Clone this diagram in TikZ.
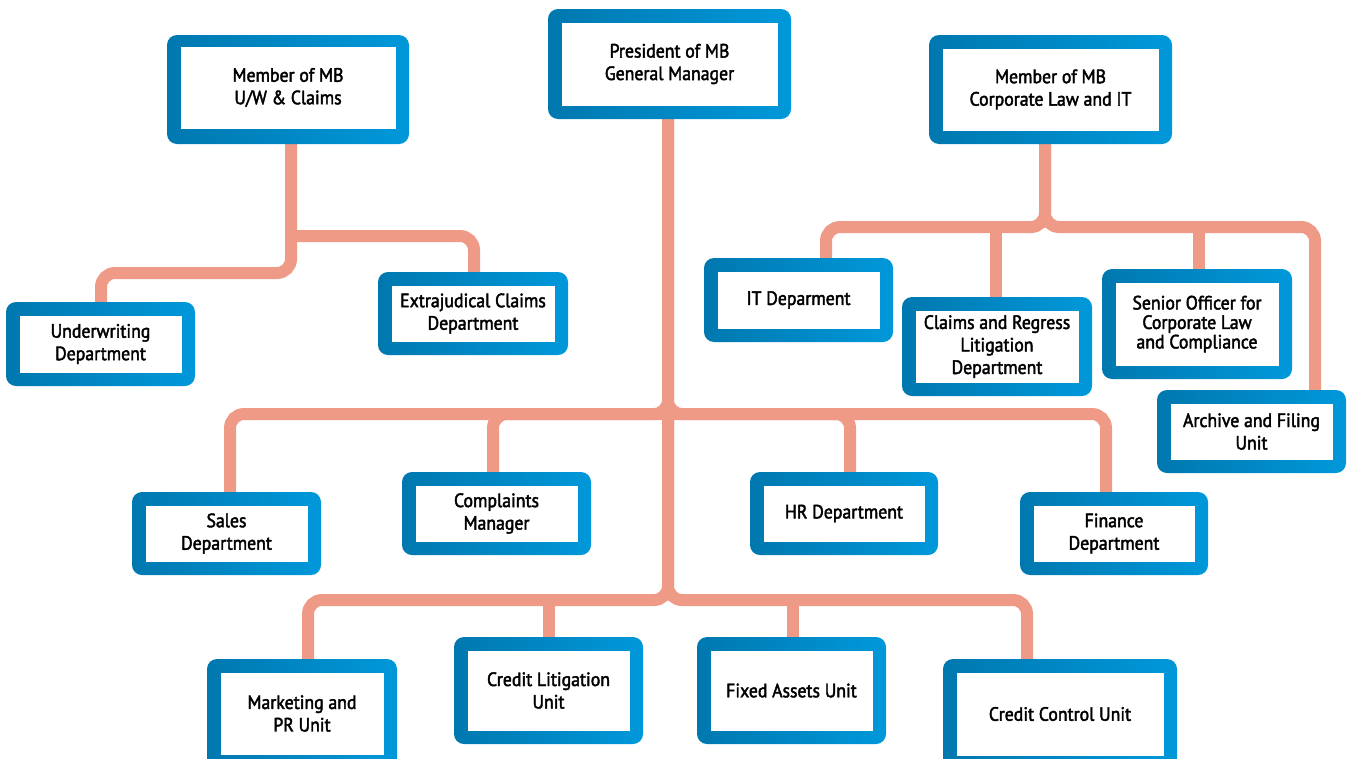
\documentclass[tikz,border=0pt]{standalone}
\usepackage{fontspec}
\setmainfont{PT Sans}[FakeStretch=0.92, FakeBold=2.2]
\usetikzlibrary{backgrounds}
\definecolor{bdark}{HTML}{0078AF}
\definecolor{blight}{HTML}{0098DA}
\definecolor{linkcol}{HTML}{EE9A86}
\tikzset{
  outerbox/.style={rounded corners=10pt, left color=bdark, right color=blight,
    draw=none, inner sep=0pt, outer sep=0pt},
  innerbox/.style={fill=white, draw=none, inner sep=0pt, outer sep=0pt,
    align=center, font=\fontsize{19.3}{22.5}\selectfont},
  connector/.style={line width=12pt, draw=linkcol, rounded corners=14pt}
}
\newcommand\orgbox[7][]{%
  \node[outerbox, minimum width=#5pt, minimum height=#6pt] (#2) at (#3,#4) {};
  \node[innerbox, minimum width=#5pt-27pt, minimum height=#6pt-27pt, #1] (#2in) at (#2.center) {#7};
}
\begin{document}
\begin{tikzpicture}[x=1pt,y=-1pt]
\useasboundingbox (0,0) rectangle (1349,758);
% boxes
\orgbox{pres}{669.5}{64}{243}{110}{President of MB\\General Manager}
\orgbox[yshift=2pt]{uw}{288}{89.5}{242}{109}{Member of MB\\U/W \& Claims}
\orgbox{cl}{1050.5}{89.5}{243}{109}{Member of MB\\Corporate Law and IT}
\orgbox{under}{100.5}{344}{189}{84}{Underwriting\\Department}
\orgbox{extra}{473}{313.5}{190}{83}{Extrajudical Claims\\Department}
\orgbox{it}{798.5}{300}{189}{84}{IT Deparment}
\orgbox{crl}{997}{346.5}{190}{99}{Claims and Regress\\Litigation\\Department}
\orgbox[font=\fontsize{19.3}{19.5}\selectfont]{so}{1197}{324}{190}{110}{Senior Officer for\\Corporate Law\\and Compliance}
\orgbox{arch}{1251.5}{431.5}{189}{83}{Archive and Filing\\Unit}
\orgbox{sales}{226.5}{533.5}{189}{83}{Sales\\Department}
\orgbox{comp}{496.5}{513.5}{189}{83}{Complaints\\Manager}
\orgbox{hr}{844}{513.5}{188}{83}{HR Department}
\orgbox{fin}{1114}{533.5}{188}{83}{Finance\\Department}
\orgbox{mkt}{302}{713.5}{190}{109}{Marketing and\\PR Unit}
\orgbox{clit}{548.5}{690.5}{189}{107}{Credit Litigation\\Unit}
\orgbox{fa}{791.5}{690.5}{189}{107}{Fixed Assets Unit}
\orgbox{cc}{1060}{714}{234}{110}{Credit Control Unit}
% junctions
\coordinate (j1) at (668,414);
\coordinate (j2) at (668,600);
\coordinate (juw) at (291,236);
\coordinate (juw2) at (291,273);
\coordinate (jcl) at (1045,227);
\begin{pgfonlayer}{background}
  % president
  \draw[connector] (j1 |- pres.south) -- (j1) -| ([xshift=3.5pt]sales.north);
  \draw[connector] (j1 |- pres.south) -- (j1) -| ([xshift=-8pt]fin.north);
  \draw[connector] (j1) -| ([xshift=-3.5pt]comp.north);
  \draw[connector] (j1) -| ([xshift=6pt]hr.north);
  \draw[connector] (j1) -- (j2) -| ([xshift=6pt]mkt.north);
  \draw[connector] (j1) -- (j2) -| ([xshift=-33pt]cc.north);
  \draw[connector] (clit.north |- j2) -- (clit.north);
  \draw[connector] ([xshift=1.5pt]fa.north |- j2) -- ([xshift=1.5pt]fa.north);
  % U/W
  \draw[connector] (juw |- uw.south) -- (juw2) -| ([xshift=0.5pt]under.north);
  \draw[connector] (juw) -| ([xshift=1pt]extra.north);
  % corporate law
  \draw[connector] (jcl |- cl.south) -- (jcl) -| ([xshift=27.5pt]it.north);
  \draw[connector] (jcl |- cl.south) -- (jcl) -| ([xshift=63.5pt]arch.north);
  \draw[connector] ([xshift=-1pt]crl.north |- jcl) -- ([xshift=-1pt]crl.north);
  \draw[connector] ([xshift=2pt]so.north |- jcl) -- ([xshift=2pt]so.north);
\end{pgfonlayer}
\end{tikzpicture}
\end{document}
